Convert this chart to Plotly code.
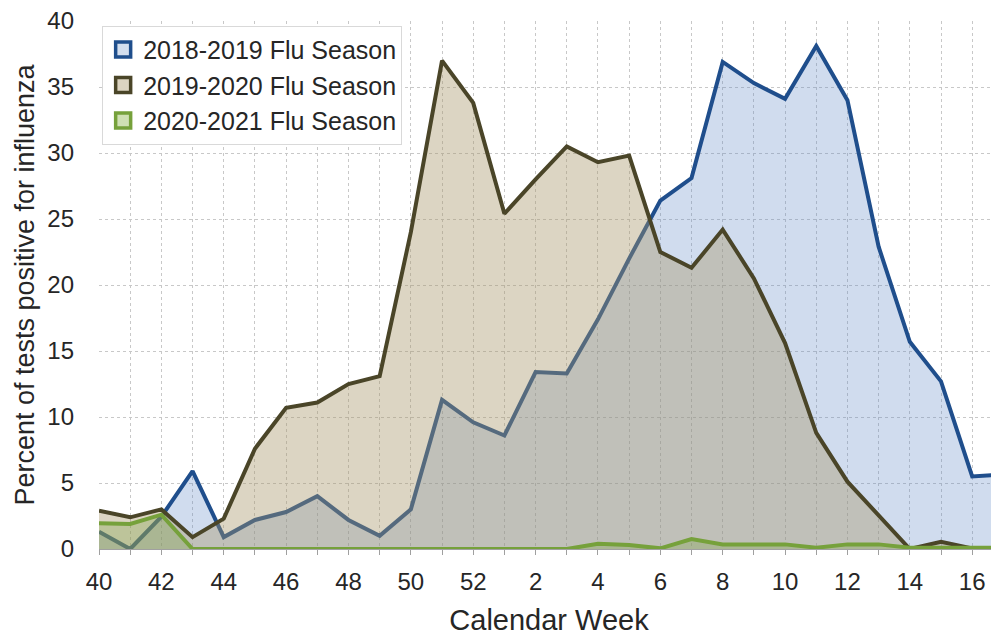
import plotly.graph_objects as go

week_labels = [40, 41, 42, 43, 44, 45, 46, 47, 48, 49, 50, 51, 52,
               1, 2, 3, 4, 5, 6, 7, 8, 9, 10, 11, 12, 13, 14, 15, 16, 17]

season_2018_2019 = [1.3, 0.0, 2.45, 5.9, 0.9, 2.2, 2.8, 4.0, 2.2, 1.0, 3.0, 11.3, 9.6,
                    8.6, 13.4, 13.3, 17.4, 22.0, 26.4, 28.1, 36.9, 35.3, 34.1, 38.1, 34.0,
                    22.9, 15.7, 12.7, 5.5, 5.65]
season_2019_2020 = [2.9, 2.4, 3.0, 0.9, 2.3, 7.6, 10.7, 11.1, 12.5, 13.1, 24.0, 37.0, 33.8,
                    25.4, 28.0, 30.5, 29.3, 29.8, 22.5, 21.3, 24.2, 20.5, 15.6, 8.8, 5.1,
                    2.5, 0.0, 0.55, 0.05, 0.0]
season_2020_2021 = [1.95, 1.9, 2.6, 0.0, 0.0, 0.0, 0.0, 0.0, 0.0, 0.0, 0.0, 0.0, 0.0,
                    0.0, 0.0, 0.0, 0.4, 0.3, 0.05, 0.75, 0.35, 0.35, 0.35, 0.1, 0.35,
                    0.35, 0.1, 0.1, 0.1, 0.1]

series_names = ["2018-2019 Flu Season", "2019-2020 Flu Season", "2020-2021 Flu Season"]
line_colors = ["#1F4E8C", "#4A4528", "#76A13B"]
fill_colors = ["rgba(98,138,198,0.30)", "rgba(168,150,105,0.40)", "rgba(118,160,59,0.30)"]
legend_fill = ["#D3DEEE", "#DCD4C1", "#CFE0B4"]

idx = list(range(len(week_labels)))
tick_text = [str(w) if i % 2 == 0 else "" for i, w in enumerate(week_labels)]

fig = go.Figure()
for name, vals, lc, fc in zip(series_names,
                              [season_2018_2019, season_2019_2020, season_2020_2021],
                              line_colors, fill_colors):
    fig.add_trace(go.Scatter(x=idx, y=vals, mode="lines", name=name,
                             line=dict(color=lc, width=4), fill="tozeroy",
                             fillcolor=fc, showlegend=False, hoverinfo="skip"))

for name, lc, lf in zip(series_names, line_colors, legend_fill):
    fig.add_trace(go.Scatter(x=[None], y=[None], mode="markers", name=name,
                             marker=dict(symbol="square", size=15, color=lf,
                                         line=dict(color=lc, width=3.5))))

font_family = "Liberation Sans, Arial, sans-serif"
fig.update_layout(
    width=991, height=628,
    margin=dict(l=91, r=0, t=13, b=87),
    paper_bgcolor="white", plot_bgcolor="white",
    font=dict(family=font_family, color="#262626"),
    showlegend=True,
    legend=dict(x=0.0035, y=0.991, xanchor="left", yanchor="top",
                bgcolor="white", bordercolor="#D9D9D9", borderwidth=1,
                font=dict(size=25, color="#262626"), itemwidth=30,
                tracegroupgap=0),
    xaxis=dict(range=[0, 28.86], tickmode="array", tickvals=idx, ticktext=tick_text,
               automargin=False, ticklabeloverflow="allow",
               showgrid=True, gridcolor="#C8C8C8", griddash="dot", gridwidth=1,
               ticks="outside", ticklen=5, tickcolor="#A0A0A0",
               ticklabelstandoff=6,
               showline=True, linecolor="#A0A0A0", zeroline=False,
               tickfont=dict(size=24, color="#262626"),
               title=dict(text="Calendar Week", font=dict(size=29, color="#262626"),
                          standoff=20)),
    yaxis=dict(range=[0, 40], tickmode="array", tickvals=[0, 5, 10, 15, 20, 25, 30, 35, 40],
               automargin=False, ticklabeloverflow="allow",
               showgrid=True, gridcolor="#C8C8C8", griddash="dot", gridwidth=1,
               zeroline=False, showline=False, ticks="",
               ticklabelstandoff=24,
               tickfont=dict(size=24, color="#262626"),
               title=dict(text="Percent of tests positive for influenza",
                          font=dict(size=27, color="#262626"), standoff=4)),
)

fig.write_html("out.html")
